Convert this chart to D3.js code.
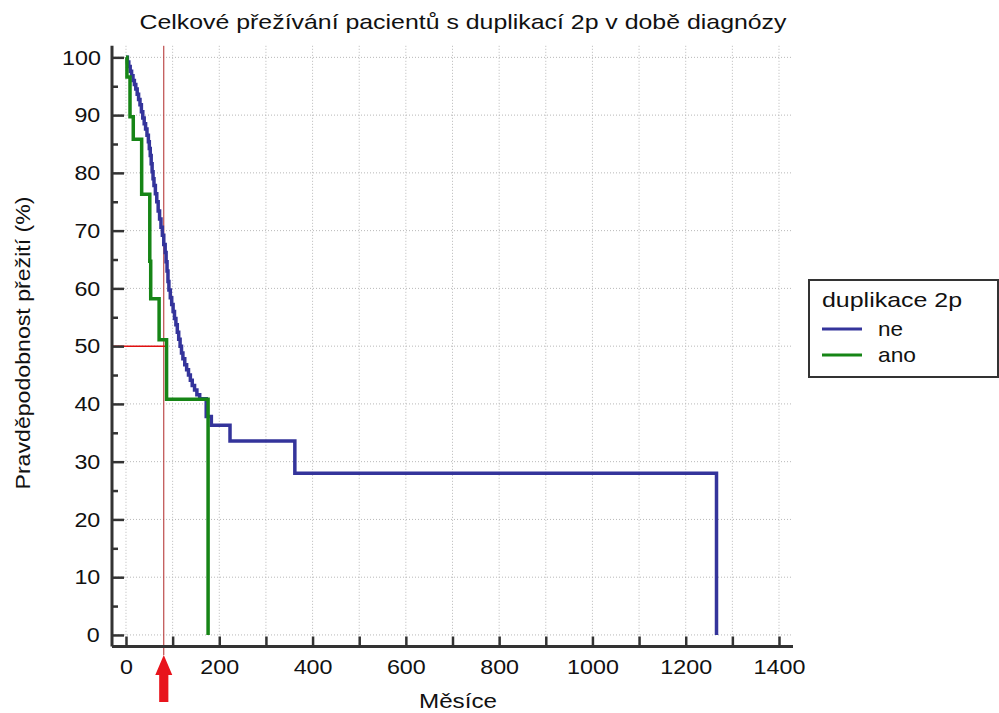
<!DOCTYPE html>
<html>
<head>
<meta charset="utf-8">
<script src="https://cdn.jsdelivr.net/npm/d3@7"></script>
<style>
  body { margin: 0; background: #fff; }
  svg { font-family: "Liberation Sans", Arial, sans-serif; }
  .wide { transform-box: fill-box; transform-origin: center; transform: scaleX(1.11); }
</style>
</head>
<body>
<div id="chart"></div>
<script>
// Kaplan-Meier steps (months, survival %)
const neMonths = [0, 3, 6, 9, 12, 15, 18, 21, 24, 27, 30, 33, 36, 39, 42, 45, 48, 50, 52, 54, 56, 58, 60, 63, 66, 69, 72, 75, 78, 81, 84, 86, 88, 90, 92, 95, 98, 101, 104, 107, 110, 113, 116, 119, 122, 126, 130, 134, 138, 142, 147, 152, 158, 172, 183, 223, 362, 1266];
const neSurv = [100, 99.2, 98.4, 97.6, 96.8, 96.0, 95.3, 94.5, 93.6, 92.7, 91.8, 90.6, 89.5, 88.5, 87.6, 86.5, 85.4, 84.2, 83.0, 81.6, 80.2, 79.0, 77.8, 76.4, 75.0, 73.4, 72.0, 70.6, 69.2, 67.6, 66.2, 64.6, 63.0, 61.2, 59.7, 58.4, 57.2, 56.0, 54.8, 53.7, 52.4, 51.2, 50.0, 48.8, 47.8, 46.8, 45.9, 45.0, 44.1, 43.2, 42.4, 41.6, 40.9, 37.8, 36.3, 33.6, 28.0, 0];

const anoMonths = [0, 2, 8.6, 15.6, 33.6, 51, 53, 71, 87, 176];
const anoSurv = [100, 96.6, 89.7, 85.8, 76.3, 64.7, 58.2, 51.1, 40.8, 0];

const groups = ["ne", "ano"];
const colors = ["#34349b", "#168516"];
const xTicks = [0, 100, 200, 300, 400, 500, 600, 700, 800, 900, 1000, 1100, 1200, 1300, 1400];
const yTicks = [0, 10, 20, 30, 40, 50, 60, 70, 80, 90, 100];
const yMinor = [5, 15, 25, 35, 45, 55, 65, 75, 85, 95];
const medianMonth = 81;   // red marker line
const medianSurv = 50;
const medianEnd = 87;

const W = 999, H = 713;
const svg = d3.select("#chart").append("svg").attr("width", W).attr("height", H);

const x = d3.scaleLinear().domain([-30, 1430]).range([112, 793]);
const y = d3.scaleLinear().domain([-2, 102]).range([646.5, 45.8]);

// grid
const grid = svg.append("g").attr("stroke", "#b8b8b8").attr("stroke-width", 1).attr("stroke-dasharray", "1,2");
grid.selectAll(".vg").data(xTicks).enter().append("line")
    .attr("x1", d => x(d)).attr("x2", d => x(d))
    .attr("y1", y(102)).attr("y2", y(-2));
grid.selectAll(".hg").data(yTicks).enter().append("line")
    .attr("y1", d => y(d)).attr("y2", d => y(d))
    .attr("x1", x(-30)).attr("x2", x(1430));

// red marker lines
svg.append("line")
    .attr("x1", x(medianMonth)).attr("x2", x(medianMonth))
    .attr("y1", y(102)).attr("y2", 655)
    .attr("stroke", "#b02828").attr("stroke-width", 1);
svg.append("line")
    .attr("x1", x(-30)).attr("x2", x(medianEnd))
    .attr("y1", y(medianSurv)).attr("y2", y(medianSurv))
    .attr("stroke", "#e01010").attr("stroke-width", 1.5);

// survival curves
const line = d3.line().x(d => x(d[0])).y(d => y(d[1])).curve(d3.curveStepAfter);
const series = [
    d3.zip(neMonths, neSurv),
    d3.zip(anoMonths, anoSurv)
];
svg.selectAll(".km").data(series).enter().append("path")
    .attr("d", line)
    .attr("fill", "none")
    .attr("stroke", (d, i) => colors[i])
    .attr("stroke-width", 3.5)
    .attr("stroke-linejoin", "miter");

// axes
const xAxis = svg.append("g").attr("transform", `translate(0,${y(-2)})`)
    .call(d3.axisBottom(x).tickValues(xTicks).tickSize(-10).tickPadding(13)
        .tickFormat(d => d % 200 === 0 ? d : ""));
const yAxis = svg.append("g").attr("transform", `translate(${x(-30)},0)`)
    .call(d3.axisLeft(y).tickValues(yTicks).tickSize(-12).tickPadding(13));
svg.append("g").attr("transform", `translate(${x(-30)},0)`)
    .call(d3.axisLeft(y).tickValues(yMinor).tickSize(-6).tickFormat(""))
    .call(g => g.select(".domain").remove());

svg.selectAll(".domain").attr("stroke", "#333").attr("stroke-width", 3);
svg.selectAll(".tick line").attr("stroke", "#333").attr("stroke-width", 2.5);
svg.selectAll(".tick text").attr("fill", "#111").attr("class", "wide").style("font-size", "21px")
    .style("font-family", "Liberation Sans, Arial, sans-serif");
xAxis.select(".domain").attr("d", `M${x(-30)},0H${x(1430)}`);
yAxis.select(".domain").attr("d", `M0,${y(102)}V${y(-2)}`);

// red arrow under the marker
const ax = x(medianMonth);
svg.append("path")
    .attr("d", `M${ax},655 L${ax + 8.5},675 L${ax + 4.6},675 L${ax + 4.6},702 L${ax - 4.6},702 L${ax - 4.6},675 L${ax - 8.5},675 Z`)
    .attr("fill", "#e8141c");

// title and axis labels
svg.append("text").attr("x", 463).attr("y", 29).attr("text-anchor", "middle")
    .style("font-size", "21px").attr("fill", "#111")
    .attr("textLength", 647).attr("lengthAdjust", "spacingAndGlyphs")
    .text("Celkové přežívání pacientů s duplikací 2p v době diagnózy");
svg.append("text").attr("transform", "translate(30,343) rotate(-90)").attr("text-anchor", "middle")
    .style("font-size", "21px").attr("fill", "#111")
    .attr("textLength", 293).attr("lengthAdjust", "spacingAndGlyphs")
    .text("Pravděpodobnost přežití (%)");
svg.append("text").attr("x", 458).attr("y", 708).attr("text-anchor", "middle")
    .style("font-size", "21px").attr("fill", "#111")
    .attr("textLength", 78).attr("lengthAdjust", "spacingAndGlyphs")
    .text("Měsíce");

// legend
const lg = svg.append("g");
lg.append("rect").attr("x", 809).attr("y", 280).attr("width", 189).attr("height", 97)
    .attr("fill", "#fff").attr("stroke", "#333").attr("stroke-width", 2);
lg.append("text").attr("x", 822).attr("y", 307).style("font-size", "21px").attr("fill", "#111")
    .attr("textLength", 140).attr("lengthAdjust", "spacingAndGlyphs")
    .text("duplikace 2p");
groups.forEach((g, i) => {
    const ly = 329 + i * 26;
    lg.append("line").attr("x1", 822).attr("x2", 862).attr("y1", ly).attr("y2", ly)
        .attr("stroke", colors[i]).attr("stroke-width", 3);
    lg.append("text").attr("x", 878).attr("y", ly + 7).style("font-size", "21px").attr("fill", "#111")
        .attr("textLength", i === 0 ? 25 : 38).attr("lengthAdjust", "spacingAndGlyphs")
        .text(g);
});
</script>
</body>
</html>
